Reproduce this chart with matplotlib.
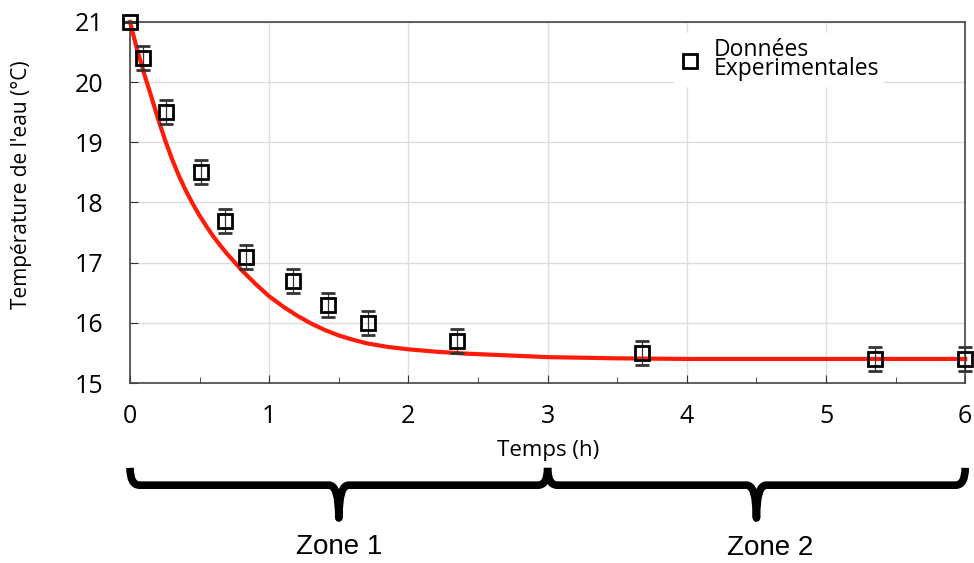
import numpy as np
import matplotlib.pyplot as plt
from matplotlib.lines import Line2D
from matplotlib.path import Path
from matplotlib.patches import PathPatch
from matplotlib.transforms import blended_transform_factory

# mesures
t_mes = [0.0, 0.09, 0.26, 0.51, 0.68, 0.83, 1.17, 1.42, 1.71, 2.35, 3.68, 5.35, 6.0]
T_mes = [21.0, 20.4, 19.5, 18.5, 17.7, 17.1, 16.7, 16.3, 16.0, 15.7, 15.5, 15.4, 15.4]
T_err = [0.0, 0.2, 0.2, 0.2, 0.2, 0.2, 0.2, 0.2, 0.2, 0.2, 0.2, 0.2, 0.2]

# courbe rouge
t_fit = [0.0, 0.05, 0.1, 0.15, 0.2, 0.25, 0.3, 0.35, 0.4, 0.45, 0.5, 0.55, 0.6, 0.65,
         0.7, 0.8, 0.9, 1.0, 1.1, 1.2, 1.3, 1.4, 1.5, 1.6, 1.7, 1.85, 2.0, 2.2,
         2.4, 2.7, 3.0, 3.5, 4.0, 5.0, 6.0]
T_fit = [21.0, 20.55, 20.15, 19.78, 19.4, 19.05, 18.73, 18.45, 18.2, 17.98, 17.78, 17.6,
         17.43, 17.28, 17.14, 16.88, 16.65, 16.44, 16.27, 16.12, 15.99, 15.88, 15.79,
         15.72, 15.66, 15.6, 15.56, 15.52, 15.49, 15.46, 15.43, 15.41, 15.4, 15.4, 15.4]

zones = ["Zone 1", "Zone 2"]
zone_bounds = [(0, 3), (3, 6)]
zone_label_x = [1.5, 4.6]

fig = plt.figure(figsize=(9.74, 5.63), dpi=100)
ax = fig.add_axes([0.1335, 0.3197, 0.8575, 0.6413])

ax.plot(t_fit, T_fit, color="#ff1a0a", lw=3, zorder=3, clip_on=False)
ax.errorbar(t_mes, T_mes, yerr=T_err, fmt="s", ms=10, mfc="none", mec="black", mew=2,
            ecolor="#333333", elinewidth=0.9, capsize=5, capthick=0.9, zorder=4,
            clip_on=False)

ax.set_xlim(0, 6)
ax.set_ylim(15, 21)
ax.set_xticks(range(0, 7))
ax.set_xticks(np.arange(0.5, 6, 1), minor=True)
ax.set_yticks(range(15, 22))
ax.grid(True, color="#dddddd", lw=1)
ax.set_axisbelow(True)
ax.tick_params(axis="both", which="both", direction="in", labelsize=18, colors="#333333",
               labelcolor="black")
ax.tick_params(axis="x", which="major", length=6, pad=15)
ax.tick_params(axis="x", which="minor", length=4)
ax.tick_params(axis="y", which="major", length=6, pad=19)
for lab in ax.get_xticklabels() + ax.get_yticklabels():
    lab.set_fontfamily("Open Sans")
for s in ax.spines.values():
    s.set_color("#444444")
    s.set_linewidth(1.2)

ax.set_xlabel("Temps (h)", fontsize=16, family="Open Sans", labelpad=8)
ax.set_ylabel("Température de l'eau (°C)", fontsize=15, family="Open Sans")
ax.yaxis.set_label_coords(-0.117, 0.548)

handle = Line2D([], [], ls="none", marker="s", ms=10, mfc="none", mec="black", mew=2)
leg = ax.legend([handle], ["Données\nExperimentales"], loc="upper left",
                bbox_to_anchor=(0.638, 1.0), frameon=True,
                prop={"family": "Open Sans", "size": 16.5}, handletextpad=0.5,
                borderpad=0.2, handlelength=1.0)
leg.get_frame().set_edgecolor("white")
leg.get_frame().set_facecolor("white")
leg.get_frame().set_alpha(1)
leg.get_frame().set_boxstyle("square", pad=0.0)
for t in leg.get_texts():
    t.set_linespacing(0.75)

# accolades sous l'axe
tr = blended_transform_factory(ax.transData, ax.transAxes)
y_t, y_b, y_p = -0.235, -0.283, -0.374
r = 0.07
for (x0, x1), name, lx, ty in zip(zone_bounds, zones, zone_label_x, [-0.453, -0.457]):
    xm = (x0 + x1) / 2
    verts = [(x0, y_t), (x0, y_b), (x0 + r, y_b),
             (xm - r, y_b), (xm, y_b), (xm, y_p),
             (xm, y_b), (xm + r, y_b),
             (x1 - r, y_b), (x1, y_b), (x1, y_t)]
    codes = [Path.MOVETO, Path.CURVE3, Path.CURVE3,
             Path.LINETO, Path.CURVE3, Path.CURVE3,
             Path.CURVE3, Path.CURVE3,
             Path.LINETO, Path.CURVE3, Path.CURVE3]
    ax.add_patch(PathPatch(Path(verts, codes), fill=False, lw=5.5, color="black",
                           transform=tr, clip_on=False, capstyle="butt", joinstyle="round"))
    ax.text(lx, ty, name, transform=tr, ha="center", va="center", fontsize=20,
            family="Liberation Sans")

fig.savefig("out.png", dpi=100)
